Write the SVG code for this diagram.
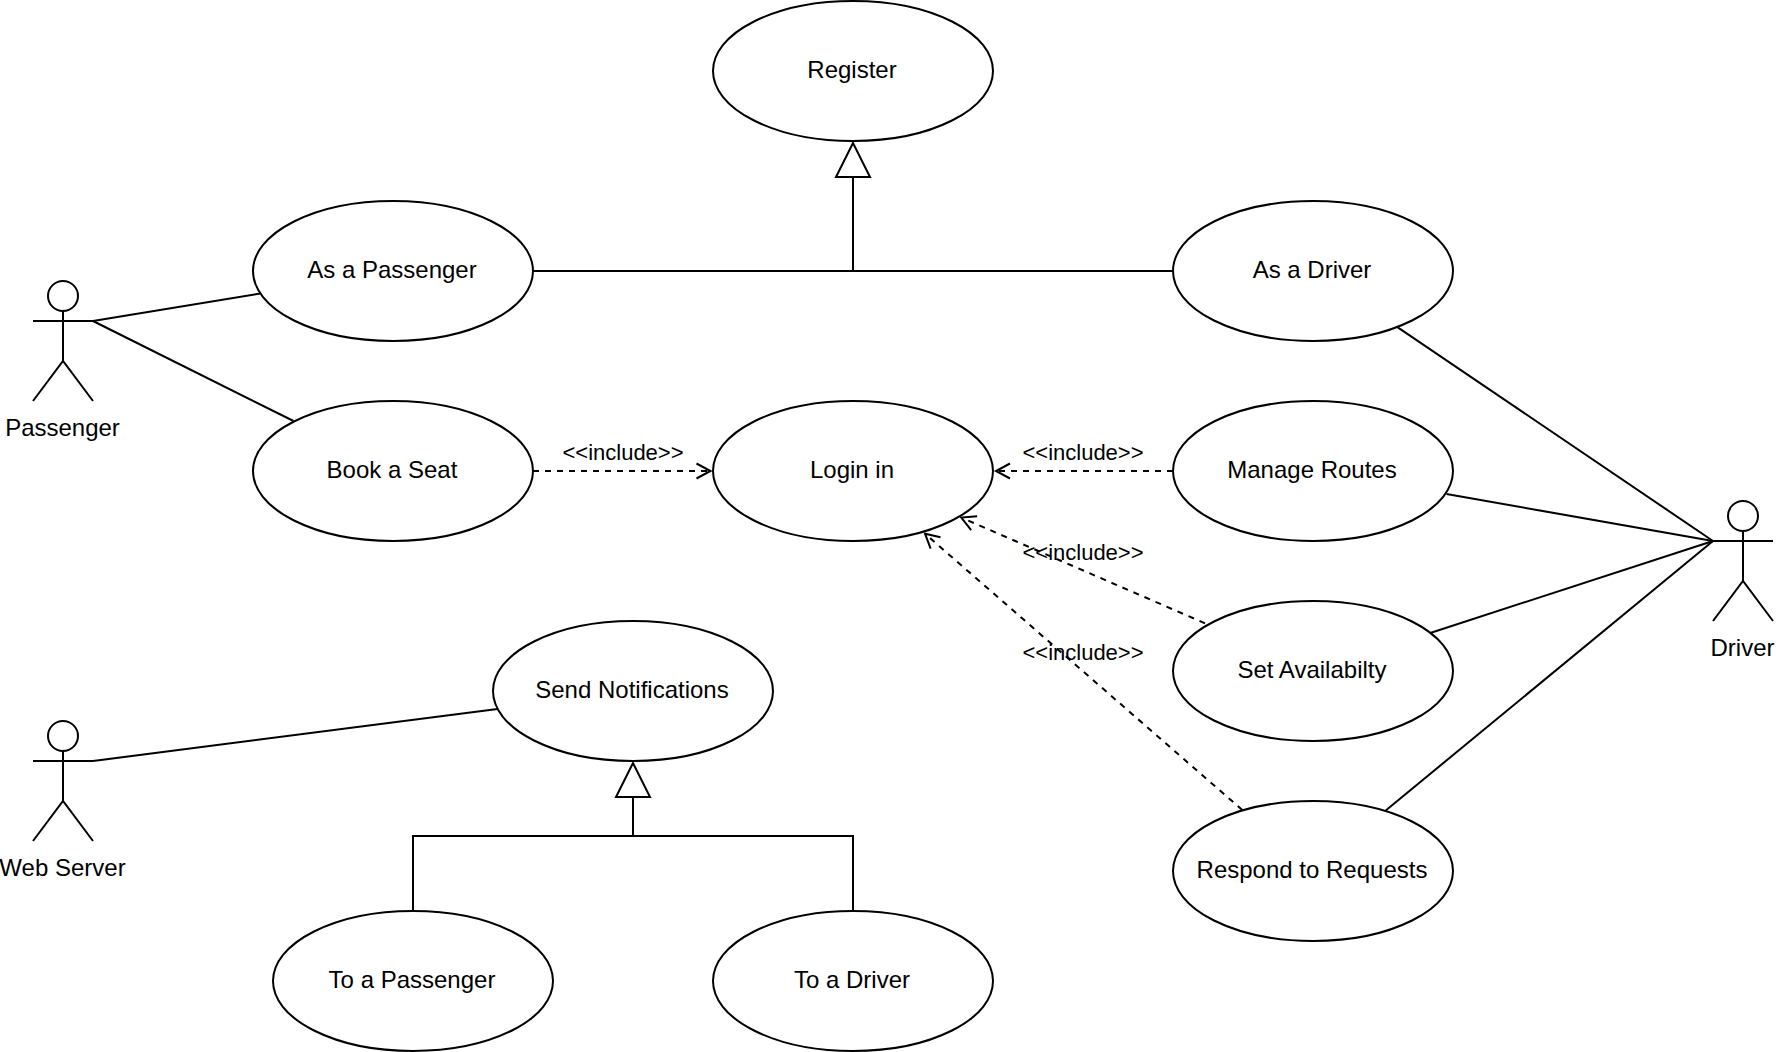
<svg xmlns="http://www.w3.org/2000/svg" width="1776" height="1052" viewBox="0 0 1776 1052">
<style>
text{font-family:"Liberation Sans",Arial,sans-serif;font-size:24px;fill:#000;text-anchor:middle}
.uc ellipse{fill:#fff;stroke:#000;stroke-width:2}
.actor *{fill:none;stroke:#000;stroke-width:2}
.actor circle{fill:#fff}
.actor text{fill:#000;stroke:none}
.assoc,.gen,.inc{fill:none;stroke:#000;stroke-width:2}
.gen{marker-end:url(#block)}
.inc{stroke-dasharray:6 6;marker-end:url(#open)}
.lbl{font-size:22px}
</style>
<defs>
<marker id="block" markerUnits="userSpaceOnUse" orient="auto" overflow="visible" markerWidth="40" markerHeight="40" refX="0" refY="0">
<path d="M0 -17L34 0L0 17Z" fill="#fff" stroke="#000" stroke-width="2"/>
</marker>
<marker id="open" markerUnits="userSpaceOnUse" orient="auto" overflow="visible" markerWidth="20" markerHeight="20" refX="0" refY="0">
<path d="M-14 -7.5L0 0L-14 7.5" fill="none" stroke="#000" stroke-width="2" stroke-dasharray="none"/>
</marker>
</defs>
<g id="register" class="uc"><ellipse cx="853" cy="71" rx="140" ry="70"/><text x="852" y="78">Register</text></g>
<g id="as-passenger" class="uc"><ellipse cx="393" cy="271" rx="140" ry="70"/><text x="392" y="278">As a Passenger</text></g>
<g id="as-driver" class="uc"><ellipse cx="1313" cy="271" rx="140" ry="70"/><text x="1312" y="278">As a Driver</text></g>
<g id="book-seat" class="uc"><ellipse cx="393" cy="471" rx="140" ry="70"/><text x="392" y="478">Book a Seat</text></g>
<g id="login" class="uc"><ellipse cx="853" cy="471" rx="140" ry="70"/><text x="852" y="478">Login in</text></g>
<g id="manage-routes" class="uc"><ellipse cx="1313" cy="471" rx="140" ry="70"/><text x="1312" y="478">Manage Routes</text></g>
<g id="set-availability" class="uc"><ellipse cx="1313" cy="671" rx="140" ry="70"/><text x="1312" y="678">Set Availabilty</text></g>
<g id="respond" class="uc"><ellipse cx="1313" cy="871" rx="140" ry="70"/><text x="1312" y="878">Respond to Requests</text></g>
<g id="send-notifications" class="uc"><ellipse cx="633" cy="691" rx="140" ry="70"/><text x="632" y="698">Send Notifications</text></g>
<g id="to-passenger" class="uc"><ellipse cx="413" cy="981" rx="140" ry="70"/><text x="412" y="988">To a Passenger</text></g>
<g id="to-driver" class="uc"><ellipse cx="853" cy="981" rx="140" ry="70"/><text x="852" y="988">To a Driver</text></g>
<g id="actor-passenger" class="actor"><circle cx="63" cy="296" r="15"/><path d="M63 311V361M33 321H93M33 401L63 361L93 401"/><text x="62.5" y="436">Passenger</text></g>
<g id="actor-driver" class="actor"><circle cx="1743" cy="516" r="15"/><path d="M1743 531V581M1713 541H1773M1713 621L1743 581L1773 621"/><text x="1742.5" y="656">Driver</text></g>
<g id="actor-web-server" class="actor"><circle cx="63" cy="736" r="15"/><path d="M63 751V801M33 761H93M33 841L63 801L93 841"/><text x="62.5" y="876">Web Server</text></g>
<g id="connectors">
<path class="assoc" d="M93 321L260.5 293.5"/>
<path class="assoc" d="M93 321L293.5 421"/>
<path class="assoc" d="M93 761L497.5 709"/>
<path class="assoc" d="M1397 326.8L1713 541"/>
<path class="assoc" d="M1446.5 494L1713 541"/>
<path class="assoc" d="M1431 632.7L1713 541"/>
<path class="assoc" d="M1385.7 810.5L1713 541"/>
<path class="assoc" d="M533 271H1173"/>
<path class="gen" d="M853 271V177"/>
<path class="assoc" d="M413 911V836H853V911"/>
<path class="gen" d="M633 836V797"/>
<path class="inc" d="M533 471H710.5"/>
<path class="inc" d="M1173 471H996"/>
<path class="inc" d="M1205 623.3L961.3 517.6"/>
<path class="inc" d="M1242.3 810L925 533.7"/>
<text class="lbl" x="623" y="460">&lt;&lt;include&gt;&gt;</text>
<text class="lbl" x="1083" y="460">&lt;&lt;include&gt;&gt;</text>
<text class="lbl" x="1083" y="560">&lt;&lt;include&gt;&gt;</text>
<text class="lbl" x="1083" y="660">&lt;&lt;include&gt;&gt;</text>
</g>
</svg>
